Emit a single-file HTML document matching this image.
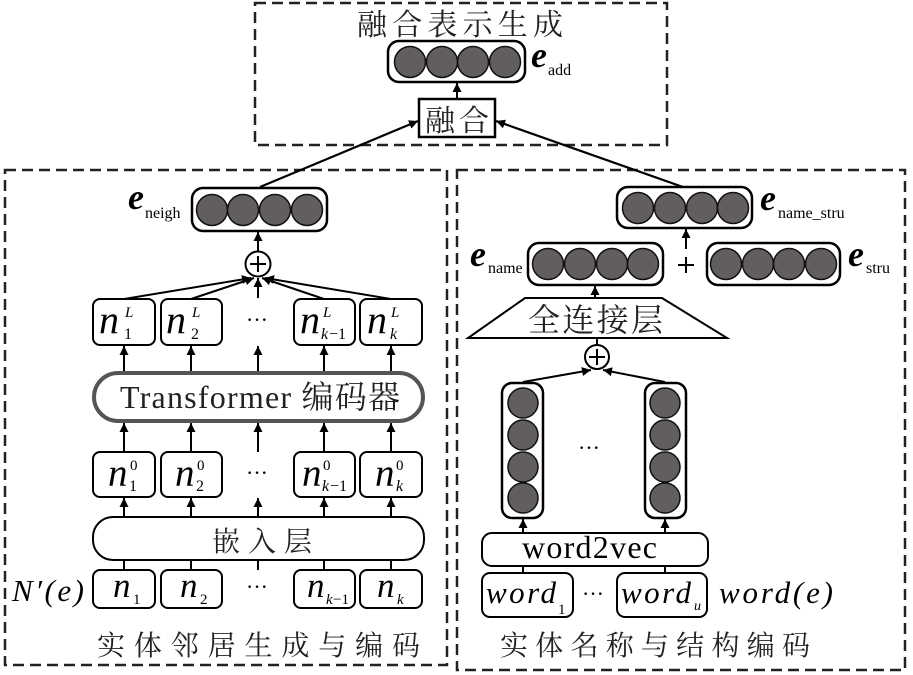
<!DOCTYPE html>
<html><head><meta charset="utf-8"><style>
html,body{margin:0;padding:0;background:#fff;}
svg{display:block;}
</style></head><body>
<svg width="913" height="675" viewBox="0 0 913 675" xmlns="http://www.w3.org/2000/svg" font-family="'Liberation Serif', 'Noto Serif CJK SC', 'Noto Sans CJK SC', serif">
<defs>
<marker id="ah" markerUnits="userSpaceOnUse" markerWidth="10" markerHeight="10" refX="9" refY="4.5" orient="auto">
<path d="M0,0 L9,4.5 L0,9 Z" fill="#000"/>
</marker>
</defs>
<rect width="913" height="675" fill="#fff"/>

<!-- dashed frames -->
<g fill="none" stroke="#222" stroke-width="2.5" stroke-dasharray="11,6">
<rect x="255" y="3" width="412" height="142"/>
<rect x="5" y="170" width="442" height="495"/>
<rect x="457" y="170" width="448" height="500"/>
</g>

<!-- TOP -->
<text x="357" y="35" font-size="30" textLength="206" lengthAdjust="spacing" fill="#222">融合表示生成</text>
<rect x="388" y="41" width="137" height="41" rx="11" fill="#fff" stroke="#000" stroke-width="2.5"/>
<g fill="#625e5d" stroke="#111" stroke-width="1.5">
<circle cx="410" cy="62" r="15.5"/><circle cx="442" cy="62" r="15.5"/><circle cx="473" cy="62" r="15.5"/><circle cx="505" cy="62" r="15.5"/>
</g>
<text x="531" y="67" font-size="36" font-weight="bold" font-style="italic">e</text>
<text x="548" y="75" font-size="16">add</text>
<line x1="457" y1="99" x2="457" y2="83" stroke="#000" stroke-width="2" marker-end="url(#ah)"/>
<rect x="419" y="99" width="76" height="38" fill="#fff" stroke="#000" stroke-width="2.5"/>
<text x="425" y="131" font-size="30" textLength="64" lengthAdjust="spacing" fill="#222">融合</text>
<line x1="260" y1="187" x2="418" y2="121" stroke="#000" stroke-width="2.2" marker-end="url(#ah)"/>
<line x1="683" y1="187" x2="496" y2="121" stroke="#000" stroke-width="2.2" marker-end="url(#ah)"/>

<!-- LEFT -->
<rect x="192" y="188" width="135" height="43" rx="11" fill="#fff" stroke="#000" stroke-width="2.5"/>
<g fill="#625e5d" stroke="#111" stroke-width="1.5">
<circle cx="212" cy="210" r="15.5"/><circle cx="243" cy="210" r="15.5"/><circle cx="275" cy="210" r="15.5"/><circle cx="307" cy="210" r="15.5"/>
</g>
<text x="128" y="209" font-size="36" font-weight="bold" font-style="italic">e</text>
<text x="145" y="218" font-size="16">neigh</text>
<line x1="258" y1="251" x2="258" y2="232" stroke="#000" stroke-width="2" marker-end="url(#ah)"/>
<circle cx="258" cy="264" r="12.5" fill="#fff" stroke="#000" stroke-width="2"/>
<line x1="250" y1="264" x2="266" y2="264" stroke="#000" stroke-width="2"/>
<line x1="258" y1="256" x2="258" y2="272" stroke="#000" stroke-width="2"/>
<g stroke="#000" stroke-width="2" marker-end="url(#ah)">
<line x1="124" y1="299" x2="251" y2="278"/>
<line x1="191" y1="299" x2="254" y2="278"/>
<line x1="258" y1="298" x2="258" y2="278"/>
<line x1="324" y1="299" x2="262" y2="278"/>
<line x1="391" y1="299" x2="265" y2="278"/>
</g>

<!-- n^L row -->
<g fill="#fff" stroke="#000" stroke-width="2">
<rect x="93" y="299" width="62" height="46" rx="7"/>
<rect x="161" y="299" width="61" height="46" rx="7"/>
<rect x="294" y="299" width="61" height="46" rx="7"/>
<rect x="360" y="299" width="62" height="46" rx="7"/>
</g>
<g font-style="italic">
<text x="99" y="333" font-size="40">n</text><text x="125" y="317" font-size="15">L</text><text x="124" y="339" font-size="16" font-style="normal">1</text>
<text x="166" y="333" font-size="40">n</text><text x="192" y="317" font-size="15">L</text><text x="191" y="339" font-size="16" font-style="normal">2</text>
<text x="300" y="333" font-size="40">n</text><text x="323" y="317" font-size="15">L</text><text x="321" y="339" font-size="16">k</text><text x="329" y="339" font-size="16" font-style="normal">−1</text>
<text x="367" y="333" font-size="40">n</text><text x="391" y="317" font-size="15">L</text><text x="390" y="339" font-size="16">k</text>
</g>
<text x="246" y="327" font-size="22">···</text>

<!-- arrows transformer -> n^L -->
<g stroke="#000" stroke-width="2" marker-end="url(#ah)">
<line x1="124" y1="372" x2="124" y2="346"/>
<line x1="191" y1="372" x2="191" y2="346"/>
<line x1="258" y1="372" x2="258" y2="346"/>
<line x1="324" y1="372" x2="324" y2="346"/>
<line x1="391" y1="372" x2="391" y2="346"/>
</g>
<rect x="94" y="373" width="329" height="48" rx="24" fill="#fff" stroke="#555" stroke-width="4"/>
<text x="120" y="408" font-size="32" textLength="280" lengthAdjust="spacing" fill="#222">Transformer 编码器</text>

<!-- arrows n^0 -> transformer -->
<g stroke="#000" stroke-width="2" marker-end="url(#ah)">
<line x1="124" y1="452" x2="124" y2="423"/>
<line x1="191" y1="452" x2="191" y2="423"/>
<line x1="258" y1="452" x2="258" y2="423"/>
<line x1="324" y1="452" x2="324" y2="423"/>
<line x1="391" y1="452" x2="391" y2="423"/>
</g>

<!-- n^0 row -->
<g fill="#fff" stroke="#000" stroke-width="2">
<rect x="93" y="452" width="62" height="45" rx="7"/>
<rect x="161" y="452" width="61" height="45" rx="7"/>
<rect x="294" y="452" width="61" height="45" rx="7"/>
<rect x="360" y="452" width="62" height="45" rx="7"/>
</g>
<g font-style="italic">
<text x="108" y="486" font-size="39">n</text><text x="130" y="470" font-size="15" font-style="normal">0</text><text x="129" y="491" font-size="16" font-style="normal">1</text>
<text x="175" y="486" font-size="39">n</text><text x="197" y="470" font-size="15" font-style="normal">0</text><text x="196" y="491" font-size="16" font-style="normal">2</text>
<text x="302" y="486" font-size="39">n</text><text x="323" y="470" font-size="15" font-style="normal">0</text><text x="322" y="491" font-size="16">k</text><text x="330" y="491" font-size="16" font-style="normal">−1</text>
<text x="375" y="486" font-size="39">n</text><text x="396" y="470" font-size="15" font-style="normal">0</text><text x="396" y="491" font-size="16">k</text>
</g>
<text x="246" y="480" font-size="22">···</text>

<!-- arrows embed -> n^0 -->
<g stroke="#000" stroke-width="2" marker-end="url(#ah)">
<line x1="124" y1="517" x2="124" y2="498"/>
<line x1="191" y1="517" x2="191" y2="498"/>
<line x1="258" y1="517" x2="258" y2="498"/>
<line x1="324" y1="517" x2="324" y2="498"/>
<line x1="391" y1="517" x2="391" y2="498"/>
</g>
<rect x="93" y="517" width="331" height="43" rx="20" fill="#fff" stroke="#000" stroke-width="2"/>
<text x="212" y="551" font-size="28" textLength="100" lengthAdjust="spacing" fill="#222">嵌入层</text>
<g stroke="#000" stroke-width="2">
<line x1="124" y1="560" x2="124" y2="570"/>
<line x1="191" y1="560" x2="191" y2="570"/>
<line x1="258" y1="560" x2="258" y2="570"/>
<line x1="324" y1="560" x2="324" y2="570"/>
<line x1="391" y1="560" x2="391" y2="570"/>
</g>

<!-- n row -->
<g fill="#fff" stroke="#000" stroke-width="2">
<rect x="93" y="570" width="62" height="38" rx="7"/>
<rect x="161" y="570" width="61" height="38" rx="7"/>
<rect x="294" y="570" width="61" height="38" rx="7"/>
<rect x="360" y="570" width="62" height="38" rx="7"/>
</g>
<g font-style="italic">
<text x="113" y="597" font-size="35">n</text><text x="133" y="604" font-size="15" font-style="normal">1</text>
<text x="180" y="597" font-size="35">n</text><text x="200" y="604" font-size="15" font-style="normal">2</text>
<text x="307" y="597" font-size="35">n</text><text x="326" y="604" font-size="15">k</text><text x="333" y="604" font-size="15" font-style="normal">−1</text>
<text x="377" y="597" font-size="35">n</text><text x="397" y="604" font-size="15">k</text>
</g>
<text x="246" y="594" font-size="22">···</text>
<text x="12" y="601" font-size="31" font-style="italic" textLength="72" lengthAdjust="spacing">N′(e)</text>
<text x="97" y="655" font-size="28" textLength="323" lengthAdjust="spacing" fill="#222">实体邻居生成与编码</text>

<!-- RIGHT -->
<rect x="617" y="187" width="135" height="41" rx="11" fill="#fff" stroke="#000" stroke-width="2.5"/>
<g fill="#625e5d" stroke="#111" stroke-width="1.5">
<circle cx="638" cy="208" r="15.5"/><circle cx="670" cy="208" r="15.5"/><circle cx="702" cy="208" r="15.5"/><circle cx="733" cy="208" r="15.5"/>
</g>
<text x="760" y="210" font-size="36" font-weight="bold" font-style="italic">e</text>
<text x="778" y="218" font-size="16">name_stru</text>
<line x1="686" y1="249" x2="686" y2="229" stroke="#000" stroke-width="2" marker-end="url(#ah)"/>
<line x1="678" y1="265" x2="694" y2="265" stroke="#000" stroke-width="2"/>
<line x1="686" y1="257" x2="686" y2="273" stroke="#000" stroke-width="2"/>

<rect x="528" y="243" width="135" height="42" rx="11" fill="#fff" stroke="#000" stroke-width="2.5"/>
<g fill="#625e5d" stroke="#111" stroke-width="1.5">
<circle cx="548" cy="264" r="15.5"/><circle cx="580" cy="264" r="15.5"/><circle cx="612" cy="264" r="15.5"/><circle cx="643" cy="264" r="15.5"/>
</g>
<text x="470" y="266" font-size="36" font-weight="bold" font-style="italic">e</text>
<text x="488" y="273" font-size="16">name</text>

<rect x="707" y="243" width="133" height="42" rx="11" fill="#fff" stroke="#000" stroke-width="2.5"/>
<g fill="#625e5d" stroke="#111" stroke-width="1.5">
<circle cx="726" cy="264" r="15.5"/><circle cx="758" cy="264" r="15.5"/><circle cx="789" cy="264" r="15.5"/><circle cx="821" cy="264" r="15.5"/>
</g>
<text x="848" y="266" font-size="36" font-weight="bold" font-style="italic">e</text>
<text x="866" y="273" font-size="16">stru</text>

<line x1="595" y1="298" x2="595" y2="286" stroke="#000" stroke-width="2" marker-end="url(#ah)"/>
<polygon points="525,298 662,298 727,338 468,338" fill="#fff" stroke="#000" stroke-width="2"/>
<text x="528" y="331" font-size="32" textLength="135" lengthAdjust="spacing" fill="#222">全连接层</text>
<line x1="597" y1="338" x2="597" y2="345" stroke="#000" stroke-width="2"/>
<circle cx="597" cy="357" r="12" fill="#fff" stroke="#000" stroke-width="2"/>
<line x1="589" y1="357" x2="605" y2="357" stroke="#000" stroke-width="2"/>
<line x1="597" y1="349" x2="597" y2="365" stroke="#000" stroke-width="2"/>
<g stroke="#000" stroke-width="2" marker-end="url(#ah)">
<line x1="523" y1="382" x2="591" y2="370"/>
<line x1="665" y1="382" x2="603" y2="370"/>
</g>

<rect x="502" y="383" width="41" height="135" rx="10" fill="#fff" stroke="#000" stroke-width="2.5"/>
<rect x="645" y="383" width="41" height="135" rx="10" fill="#fff" stroke="#000" stroke-width="2.5"/>
<g fill="#625e5d" stroke="#111" stroke-width="1.5">
<circle cx="523" cy="403" r="15"/><circle cx="523" cy="435" r="15"/><circle cx="523" cy="467" r="15"/><circle cx="523" cy="498" r="15"/>
<circle cx="665" cy="403" r="15"/><circle cx="665" cy="435" r="15"/><circle cx="665" cy="467" r="15"/><circle cx="665" cy="498" r="15"/>
</g>
<text x="578" y="455" font-size="22">···</text>

<g stroke="#000" stroke-width="2" marker-end="url(#ah)">
<line x1="523" y1="533" x2="523" y2="519"/>
<line x1="665" y1="533" x2="665" y2="519"/>
</g>
<rect x="482" y="533" width="226" height="33" rx="10" fill="#fff" stroke="#000" stroke-width="2"/>
<text x="522" y="558" font-size="32" textLength="135" lengthAdjust="spacing">word2vec</text>
<g stroke="#000" stroke-width="2">
<line x1="523" y1="566" x2="523" y2="573"/>
<line x1="665" y1="566" x2="665" y2="573"/>
</g>
<rect x="482" y="573" width="91" height="44" rx="8" fill="#fff" stroke="#000" stroke-width="2"/>
<rect x="617" y="573" width="90" height="44" rx="8" fill="#fff" stroke="#000" stroke-width="2"/>
<text x="486" y="603" font-size="31" font-style="italic" textLength="70" lengthAdjust="spacing">word</text>
<text x="558" y="614" font-size="15">1</text>
<text x="621" y="603" font-size="31" font-style="italic" textLength="70" lengthAdjust="spacing">word</text>
<text x="694" y="610" font-size="14" font-style="italic">u</text>
<text x="582" y="601" font-size="22">···</text>
<text x="719" y="603" font-size="31" font-style="italic" textLength="114" lengthAdjust="spacing">word(e)</text>
<text x="500" y="655" font-size="28" textLength="310" lengthAdjust="spacing" fill="#222">实体名称与结构编码</text>
</svg>
</body></html>
